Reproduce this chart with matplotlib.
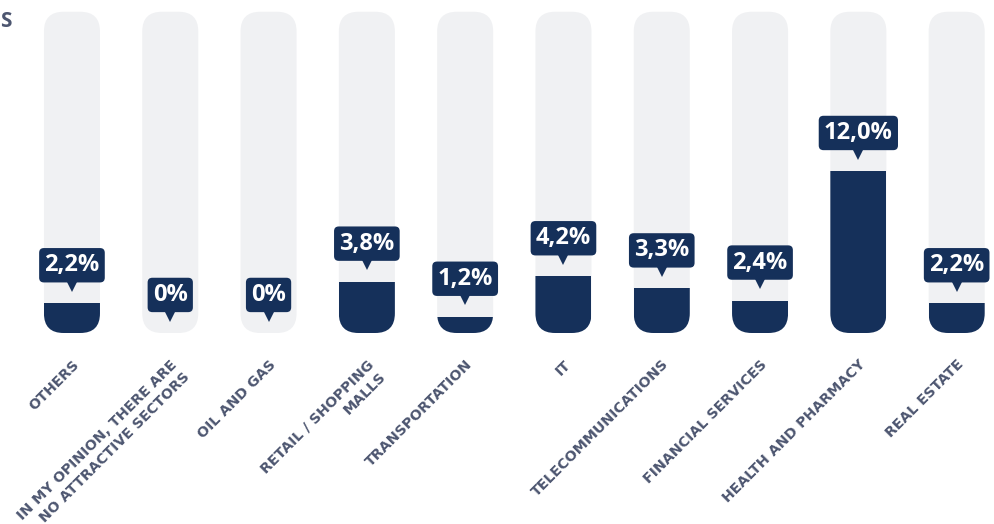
import matplotlib
matplotlib.use("Agg")
import matplotlib.pyplot as plt
from matplotlib.patches import FancyBboxPatch, Rectangle
from matplotlib.transforms import offset_copy

categories = ["OTHERS", "IN MY OPINION, THERE ARE\nNO ATTRACTIVE SECTORS", "OIL AND GAS",
              "RETAIL / SHOPPING\nMALLS", "TRANSPORTATION", "IT", "TELECOMMUNICATIONS",
              "FINANCIAL SERVICES", "HEALTH AND PHARMACY", "REAL ESTATE"]
values = [2.2, 0, 0, 3.8, 1.2, 4.2, 3.3, 2.4, 12.0, 2.2]
value_labels = ["2,2%", "0%", "0%", "3,8%", "1,2%", "4,2%", "3,3%", "2,4%", "12,0%", "2,2%"]
track_max = 23.8

navy = "#15305a"
track_col = "#f0f1f3"
label_col = "#4d5670"

plt.rcParams["font.family"] = ["Open Sans", "DejaVu Sans"]

fig = plt.figure(figsize=(9.95, 5.24), dpi=100)
ax = fig.add_axes([0, 0, 1, 1])
# ~98.3 px per category, ~13.5 px per percent point
ax.set_xlim(-0.732, 9.39)
ax.set_ylim(-14.15, 24.67)
ax.axis("off")

w = 0.57
r = 0.2
asp = 98.3 / 13.5

for i, (cat, v, lab) in enumerate(zip(categories, values, value_labels)):
    pill = FancyBboxPatch((i - w / 2, 0), w, track_max,
                          boxstyle=f"round,pad=0,rounding_size={r}",
                          mutation_aspect=asp, fc=track_col, ec="none")
    ax.add_patch(pill)
    bar = Rectangle((i - w / 2, 0), w, v, fc=navy, ec="none")
    ax.add_patch(bar)
    bar.set_clip_path(pill)

    # callout box + pointer
    ax.annotate(lab, xy=(i, v), xytext=(0, 27.4), textcoords="offset points",
                ha="center", va="center", color="white", fontsize=17, fontweight="bold",
                bbox=dict(boxstyle="round,pad=0.22,rounding_size=0.2", fc=navy, ec="none"))
    ax.plot(i, v, marker="v", ms=7, color=navy, mew=0,
            transform=offset_copy(ax.transData, fig=fig, y=16.5, units="dots"))

    ax.text(i, -1.8, cat, rotation=45, rotation_mode="anchor", ha="right", va="top",
            multialignment="right", fontsize=10.3, fontweight="bold", color=label_col,
            family="DejaVu Sans", linespacing=1.3)

fig.text(0.012, 1 - 27 / 524, "S", ha="right", va="baseline", fontsize=15,
         fontweight="bold", color=label_col)

fig.savefig("out.png", dpi=100)
